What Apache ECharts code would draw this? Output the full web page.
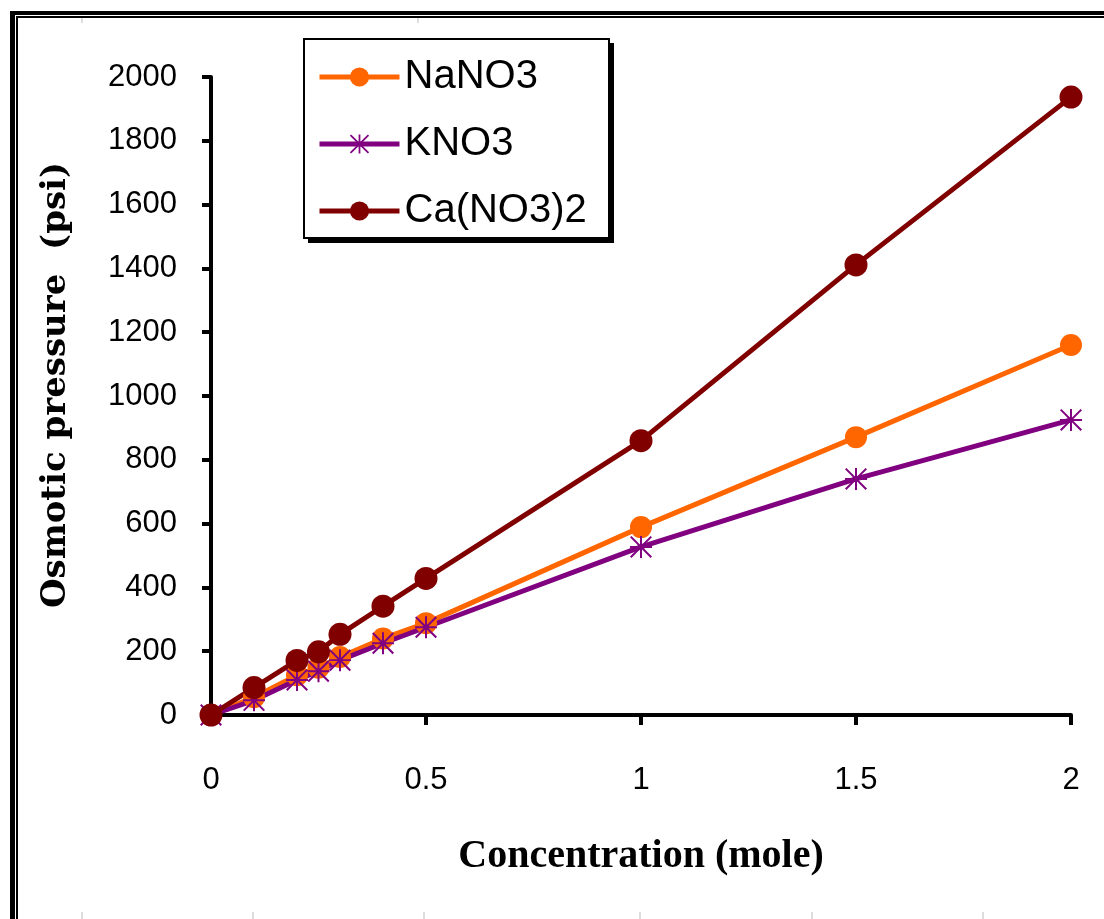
<!DOCTYPE html>
<html>
<head>
<meta charset="utf-8">
<script src="https://cdn.jsdelivr.net/npm/echarts@6/dist/echarts.min.js"></script>
<style>
  html, body { margin: 0; padding: 0; background: #fff; }
  #chart { width: 1104px; height: 919px; }
</style>
</head>
<body>
<div id="chart"></div>
<script>
// Concentration (mole) of each measured solution
const concentration = [0, 0.1, 0.2, 0.25, 0.3, 0.4, 0.5, 1, 1.5, 2];
// Osmotic pressure (psi) per salt
const nano3 = [0, 56, 125, 148, 182, 240, 288, 589, 871, 1160];
const kno3 = [0, 46, 110, 137, 172, 225, 275, 527, 740, 925];
const cano32 = [0, 86, 171, 198, 253, 341, 428, 860, 1411, 1937];
const seriesNames = ['NaNO3', 'KNO3', 'Ca(NO3)2'];

const pairs = (ys) => concentration.map((c, i) => [c, ys[i]]);

// asterisk marker: vertical, horizontal and two diagonal strokes
const starPath = 'path://M-0.9,-10L0.9,-10L0.9,10L-0.9,10Z' +
  'M-10,-0.9L10,-0.9L10,0.9L-10,0.9Z' +
  'M-10,-8.7L-8.7,-10L10,8.7L8.7,10Z' +
  'M8.7,-10L10,-8.7L-8.7,10L-10,8.7Z';

const chart = echarts.init(document.getElementById('chart'), null, { renderer: 'canvas' });

// page frame (double rule on top and left), faint ruler marks, legend box with drop shadow
const decor = [
  { type: 'rect', shape: { x: 10, y: 11, width: 1094, height: 4 }, style: { fill: '#000' } },
  { type: 'rect', shape: { x: 16, y: 16, width: 1088, height: 2 }, style: { fill: '#000' } },
  { type: 'rect', shape: { x: 10, y: 11, width: 5, height: 908 }, style: { fill: '#000' } },
  { type: 'rect', shape: { x: 16, y: 16, width: 2, height: 903 }, style: { fill: '#000' } },
  { type: 'rect', z: 10, shape: { x: 308, y: 43, width: 306, height: 200 }, style: { fill: '#000' } },
  { type: 'rect', z: 11, shape: { x: 304, y: 39, width: 305, height: 199 }, style: { fill: '#fff', stroke: '#000', lineWidth: 2 } }
];
const rulerTop = [82, 418];
const rulerBottom = [82, 253, 424, 640, 812, 983];
rulerTop.forEach(x => decor.push({ type: 'line', shape: { x1: x, y1: 18, x2: x, y2: 23 }, style: { stroke: '#bbb', lineWidth: 1 } }));
rulerBottom.forEach(x => decor.push({ type: 'line', shape: { x1: x, y1: 912, x2: x, y2: 919 }, style: { stroke: '#bbb', lineWidth: 1 } }));

const lineSeries = (name, ys, color, symbol, size) => ({
  name: name,
  type: 'line',
  data: pairs(ys),
  symbol: symbol,
  symbolSize: size,
  showAllSymbol: true,
  lineStyle: { color: color, width: 5 },
  itemStyle: { color: color, borderWidth: 0 },
  emphasis: { disabled: true }
});

chart.setOption({
  animation: false,
  backgroundColor: '#fff',
  grid: { left: 211, right: 33, top: 77, bottom: 204, outerBoundsMode: 'none' },
  legend: {
    orient: 'vertical',
    left: 303,
    top: 38,
    z: 20,
    data: seriesNames,
    itemWidth: 80,
    itemHeight: 24,
    itemGap: 23,
    padding: [17, 26, 5, 14],
    lineStyle: { width: 5 },
    textStyle: { fontFamily: 'Liberation Sans', fontSize: 40, color: '#000', lineHeight: 44 }
  },
  xAxis: {
    type: 'value',
    min: 0,
    max: 2,
    interval: 0.5,
    name: 'Concentration (mole)',
    nameLocation: 'middle',
    nameGap: 122,
    nameTextStyle: { fontFamily: 'Liberation Serif', fontWeight: 'bold', fontSize: 40, color: '#000' },
    axisLine: { onZero: false, lineStyle: { color: '#000', width: 4 } },
    axisTick: { show: true, length: 10, lineStyle: { color: '#000', width: 4 } },
    axisLabel: { margin: 50, fontFamily: 'Liberation Sans', fontSize: 31, color: '#000' },
    splitLine: { show: false }
  },
  yAxis: {
    type: 'value',
    min: 0,
    max: 2000,
    interval: 200,
    name: 'Osmotic pressure  (psi)',
    nameLocation: 'middle',
    nameGap: 138,
    nameTextStyle: { fontFamily: 'DejaVu Serif', fontWeight: 'bold', fontSize: 34, color: '#000', padding: [0, 0, 0, 22] },
    axisLine: { show: true, lineStyle: { color: '#000', width: 4 } },
    axisTick: { show: true, length: 9, lineStyle: { color: '#000', width: 4 } },
    axisLabel: { margin: 34, fontFamily: 'Liberation Sans', fontSize: 31, color: '#000', formatter: (v) => String(v) },
    splitLine: { show: false }
  },
  graphic: decor,
  series: [
    lineSeries(seriesNames[0], nano3, '#FF6600', 'circle', 22),
    lineSeries(seriesNames[1], kno3, '#800080', starPath, 22),
    lineSeries(seriesNames[2], cano32, '#800000', 'circle', 23)
  ]
});
</script>
</body>
</html>
